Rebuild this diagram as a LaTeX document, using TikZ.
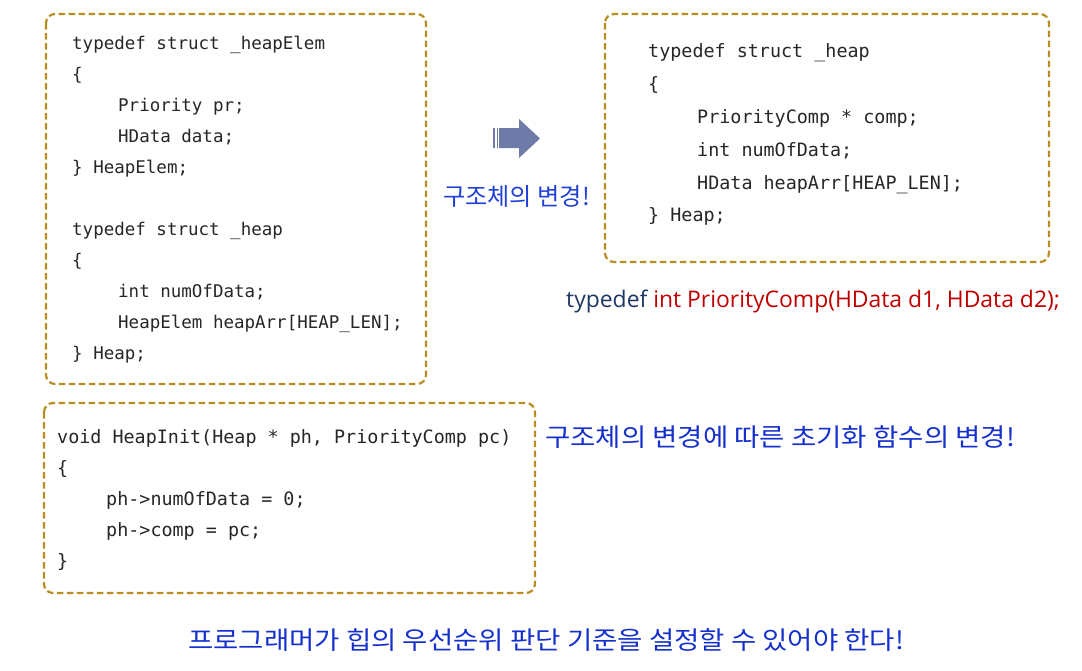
\documentclass[tikz,border=0pt]{standalone}
\usepackage{fontspec}
\newfontfamily\codefont{DejaVu Sans Mono}
\newfontfamily\krfont{Noto Sans CJK KR}
\newfontfamily\hwfont[FakeStretch=1.1]{Noto Sans CJK KR}
\newfontfamily\oslatin{Open Sans}
\definecolor{boxgold}{HTML}{B88E22}
\definecolor{codegray}{HTML}{262626}
\definecolor{krblue}{HTML}{2141D6}
\definecolor{hwblue}{HTML}{1530CC}
\definecolor{tdnavy}{HTML}{1F3864}
\definecolor{tdred}{HTML}{C00000}
\definecolor{arrowblue}{HTML}{6E7BA8}
\tikzset{
  boxst/.style={draw=boxgold, line width=2.2pt, dash pattern=on 6.5pt off 3.5pt, rounded corners=9pt},
  codeA/.style={font=\codefont\fontsize{17.5}{20}\selectfont, text=codegray, inner sep=0pt, anchor=base west},
  codeB/.style={font=\codefont\fontsize{18.4}{20}\selectfont, text=codegray, inner sep=0pt, anchor=base west},
  krnote/.style={font=\krfont\fontsize{24.2}{26}\selectfont, text=krblue, inner sep=0pt, anchor=base west},
  hwnote/.style={font=\hwfont\fontsize{25}{28}\selectfont, text=hwblue, inner sep=0pt, anchor=base west},
  tdline/.style={font=\oslatin\fontsize{22.9}{26}\selectfont, inner sep=0pt, anchor=base west}
}
\begin{document}
\begin{tikzpicture}[x=1pt,y=-1pt]
\useasboundingbox (0,0) rectangle (1082,670);
% boxes
\draw[boxst] (46,14) rectangle (426,384);
\draw[boxst] (605,14) rectangle (1049,262);
\draw[boxst] (44,403) rectangle (535,593);
% box 1
\node[codeA] (a1) at (72,49) {typedef struct \_heapElem};
\node[codeA] (a2) at (72,80) {\{};
\node[codeA] (a3) at (118,111) {Priority pr;};
\node[codeA] (a4) at (118,142) {HData data;};
\node[codeA] (a5) at (72,173) {\} HeapElem;};
\node[codeA] (a6) at (72,235) {typedef struct \_heap};
\node[codeA] (a7) at (72,266) {\{};
\node[codeA] (a8) at (118,297) {int numOfData;};
\node[codeA] (a9) at (118,328) {HeapElem heapArr[HEAP\_LEN];};
\node[codeA] (a10) at (72,359) {\} Heap;};
% box 2
\node[codeB] (b1) at (648,57) {typedef struct \_heap};
\node[codeB] (b2) at (648,90) {\{};
\node[codeB] (b3) at (697,123) {PriorityComp * comp;};
\node[codeB] (b4) at (697,156) {int numOfData;};
\node[codeB] (b5) at (697,189) {HData heapArr[HEAP\_LEN];};
\node[codeB] (b6) at (648,221) {\} Heap;};
% box 3
\node[codeB] (c1) at (57,443) {void HeapInit(Heap * ph, PriorityComp pc)};
\node[codeB] (c2) at (57,474) {\{};
\node[codeB] (c3) at (106,505) {ph->numOfData = 0;};
\node[codeB] (c4) at (106,536) {ph->comp = pc;};
\node[codeB] (c5) at (57,567) {\}};
% arrow
\fill[arrowblue] (499,128) -- (519,128) -- (519,119) -- (540,138.5) -- (519,158) -- (519,148) -- (499,148) -- cycle;
\fill[arrowblue] (493,128) rectangle (495,148);
\fill[arrowblue] (496.5,128) rectangle (498,148);
% notes
\node[krnote] (n1) at (443,205) {구조체의 변경!};
\node[tdline] (td) at (566,307) {\textcolor{tdnavy}{typedef} \textcolor{tdred}{int PriorityComp(HData d1, HData d2);}};
\node[hwnote] (n2) at (545,446) {구조체의 변경에 따른 초기화 함수의 변경!};
\node[hwnote] (n3) at (188,649) {프로그래머가 힙의 우선순위 판단 기준을 설정할 수 있어야 한다!};
\end{tikzpicture}
\end{document}
